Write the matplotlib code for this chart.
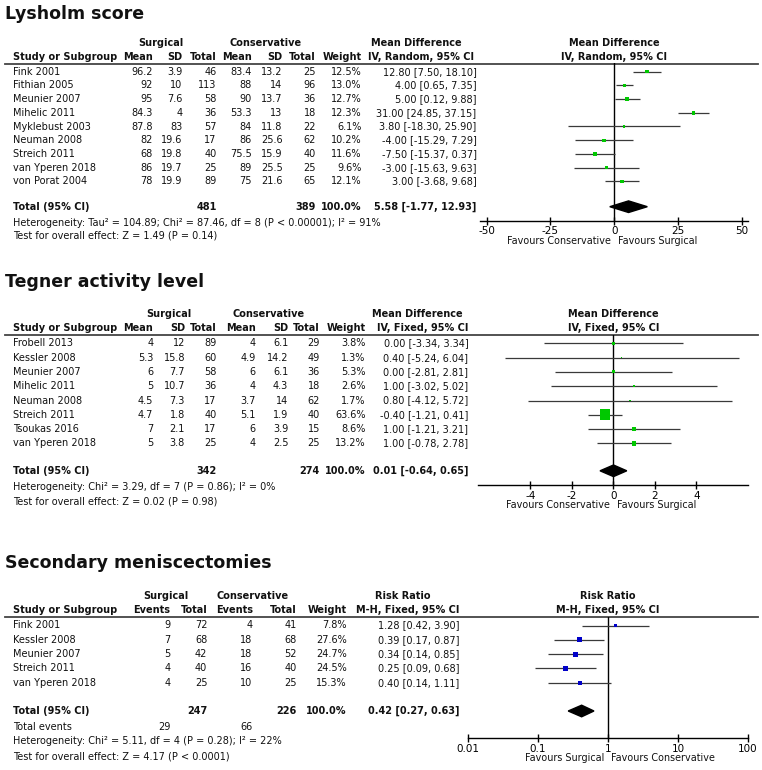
import numpy as np
import matplotlib.pyplot as plt

W, H = 762, 770

# Lysholm score (mean difference, random effects)
lys_study = ['Fink 2001', 'Fithian 2005', 'Meunier 2007', 'Mihelic 2011', 'Myklebust 2003',
             'Neuman 2008', 'Streich 2011', 'van Yperen 2018', 'von Porat 2004']
lys_s_mean = [96.2, 92, 95, 84.3, 87.8, 82, 68, 86, 78]
lys_s_sd = [3.9, 10, 7.6, 4, 83, 19.6, 19.8, 19.7, 19.9]
lys_s_n = [46, 113, 58, 36, 57, 17, 40, 25, 89]
lys_c_mean = [83.4, 88, 90, 53.3, 84, 86, 75.5, 89, 75]
lys_c_sd = [13.2, 14, 13.7, 13, 11.8, 25.6, 15.9, 25.5, 21.6]
lys_c_n = [25, 96, 36, 18, 22, 62, 40, 25, 65]
lys_weight = [12.5, 13.0, 12.7, 12.3, 6.1, 10.2, 11.6, 9.6, 12.1]
lys_md = [12.80, 4.00, 5.00, 31.00, 3.80, -4.00, -7.50, -3.00, 3.00]
lys_lo = [7.50, 0.65, 0.12, 24.85, -18.30, -15.29, -15.37, -15.63, -3.68]
lys_hi = [18.10, 7.35, 9.88, 37.15, 25.90, 7.29, 0.37, 9.63, 9.68]
lys_total = [481, 389]
lys_pooled = [5.58, -1.77, 12.93]
lys_ticks = [-50, -25, 0, 25, 50]

# Tegner activity level (mean difference, fixed effect)
teg_study = ['Frobell 2013', 'Kessler 2008', 'Meunier 2007', 'Mihelic 2011', 'Neuman 2008',
             'Streich 2011', 'Tsoukas 2016', 'van Yperen 2018']
teg_s_mean = [4, 5.3, 6, 5, 4.5, 4.7, 7, 5]
teg_s_sd = [12, 15.8, 7.7, 10.7, 7.3, 1.8, 2.1, 3.8]
teg_s_n = [89, 60, 58, 36, 17, 40, 17, 25]
teg_c_mean = [4, 4.9, 6, 4, 3.7, 5.1, 6, 4]
teg_c_sd = [6.1, 14.2, 6.1, 4.3, 14, 1.9, 3.9, 2.5]
teg_c_n = [29, 49, 36, 18, 62, 40, 15, 25]
teg_weight = [3.8, 1.3, 5.3, 2.6, 1.7, 63.6, 8.6, 13.2]
teg_md = [0.00, 0.40, 0.00, 1.00, 0.80, -0.40, 1.00, 1.00]
teg_lo = [-3.34, -5.24, -2.81, -3.02, -4.12, -1.21, -1.21, -0.78]
teg_hi = [3.34, 6.04, 2.81, 5.02, 5.72, 0.41, 3.21, 2.78]
teg_total = [342, 274]
teg_pooled = [0.01, -0.64, 0.65]
teg_ticks = [-4, -2, 0, 2, 4]

# Secondary meniscectomies (risk ratio, fixed effect)
men_study = ['Fink 2001', 'Kessler 2008', 'Meunier 2007', 'Streich 2011', 'van Yperen 2018']
men_s_ev = [9, 7, 5, 4, 4]
men_s_n = [72, 68, 42, 40, 25]
men_c_ev = [4, 18, 18, 16, 10]
men_c_n = [41, 68, 52, 40, 25]
men_weight = [7.8, 27.6, 24.7, 24.5, 15.3]
men_rr = [1.28, 0.39, 0.34, 0.25, 0.40]
men_lo = [0.42, 0.17, 0.14, 0.09, 0.14]
men_hi = [3.90, 0.87, 0.85, 0.68, 1.11]
men_total = [247, 226]
men_events = [29, 66]
men_pooled = [0.42, 0.27, 0.63]
men_ticks = [0.01, 0.1, 1, 10, 100]
men_ticklabels = ['0.01', '0.1', '1', '10', '100']

FS = 7
INK = '#111111'

fig = plt.figure(figsize=(W / 100, H / 100), dpi=100)
bg = fig.add_axes([0, 0, 1, 1])
bg.set_xlim(0, W)
bg.set_ylim(H, 0)
bg.axis('off')


def txt(x, y, s, ha='right', bold=False, size=FS):
    bg.text(x, y, s, ha=ha, va='center', fontsize=size, color=INK,
            fontweight='bold' if bold else 'normal')


def g(v):
    return '{:g}'.format(v)


def ci(e, l, h):
    return '{:.2f} [{:.2f}, {:.2f}]'.format(e, l, h)


def forest(box, rows, est, lo, hi, weight, k, colour, pooled, pooled_y, null,
           ticks, ticklabels, heads, favours, log=False):
    left, right, top, bottom, xmin, xmax = box
    ax = fig.add_axes([left / W, 1 - bottom / H, (right - left) / W, (bottom - top) / H])
    ax.set_facecolor('none')
    if log:
        ax.set_xscale('log')
    ax.set_xlim(xmin, xmax)
    ax.set_ylim(bottom, top)
    for sp in ['top', 'left', 'right']:
        ax.spines[sp].set_visible(False)
    ax.spines['bottom'].set_linewidth(1)
    ax.set_yticks([])
    ax.set_xticks(ticks)
    ax.set_xticklabels(ticklabels)
    ax.minorticks_off()
    ax.tick_params(axis='x', direction='inout', length=6, width=1, labelsize=7.5, pad=1)
    ax.axvline(null, color='black', lw=1)
    ax.hlines(rows, lo, hi, color='#3a3a3a', lw=0.9)
    side = k * np.sqrt(np.array(weight)) * 0.72
    ax.scatter(est, rows, s=side ** 2, marker='s', color=colour, linewidths=0, zorder=3)
    e, l, h = pooled
    ax.fill([l, e, h, e], [pooled_y, pooled_y - 5.8, pooled_y, pooled_y + 5.8],
            color='black', zorder=3)
    for s, off in zip(heads, [14.8, 4.7]):
        ax.annotate(s, xy=(null, 1), xycoords=('data', 'axes fraction'), xytext=(0, off),
                    textcoords='offset points', ha='center', va='center', fontsize=FS,
                    fontweight='bold', color=INK, annotation_clip=False)
    ax.annotate(favours[0], xy=(null, 0), xycoords=('data', 'axes fraction'),
                xytext=(-2.5, -14.4), textcoords='offset points', ha='right', va='center',
                fontsize=6.9, color=INK, annotation_clip=False)
    ax.annotate(favours[1], xy=(null, 0), xycoords=('data', 'axes fraction'),
                xytext=(2.5, -14.4), textcoords='offset points', ha='left', va='center',
                fontsize=6.9, color=INK, annotation_clip=False)
    return ax


# ---------------- Lysholm score ----------------
txt(5, 14, 'Lysholm score', ha='left', bold=True, size=12.5)
cols = [152.7, 182.7, 216.7, 251.7, 282.7, 316, 361.7, 476.5]
txt(161, 43, 'Surgical', ha='center', bold=True)
txt(266, 43, 'Conservative', ha='center', bold=True)
txt(416.5, 43, 'Mean Difference', ha='center', bold=True)
txt(13.3, 57, 'Study or Subgroup', ha='left', bold=True)
for x, s in zip(cols[:7], ['Mean', 'SD', 'Total', 'Mean', 'SD', 'Total', 'Weight']):
    txt(x, 57, s, bold=True)
txt(421.5, 57, 'IV, Random, 95% CI', ha='center', bold=True)
bg.plot([5, 758], [63.5, 63.5], color='#444444', lw=1.3)
lys_rows = 71.7 + 13.7 * np.arange(len(lys_study))
for i, y in enumerate(lys_rows):
    txt(13.3, y, lys_study[i], ha='left')
    vals = [g(lys_s_mean[i]), g(lys_s_sd[i]), str(lys_s_n[i]), g(lys_c_mean[i]),
            g(lys_c_sd[i]), str(lys_c_n[i]), '{:.1f}%'.format(lys_weight[i]),
            ci(lys_md[i], lys_lo[i], lys_hi[i])]
    for x, s in zip(cols, vals):
        txt(x, y, s)
txt(13.3, 206.7, 'Total (95% CI)', ha='left', bold=True)
txt(cols[2], 206.7, str(lys_total[0]), bold=True)
txt(cols[5], 206.7, str(lys_total[1]), bold=True)
txt(cols[6], 206.7, '100.0%', bold=True)
txt(cols[7], 206.7, ci(*lys_pooled), bold=True)
txt(13.3, 222.5, 'Heterogeneity: Tau² = 104.89; Chi² = 87.46, df = 8 (P < 0.00001); I² = 91%', ha='left')
txt(13.3, 236, 'Test for overall effect: Z = 1.49 (P = 0.14)', ha='left')
forest((480.2, 748.4, 63.5, 220.7, -52.5, 52.5), lys_rows, lys_md, lys_lo, lys_hi,
       lys_weight, 1.0, '#00c800', lys_pooled, 206.7, 0, lys_ticks,
       [str(t) for t in lys_ticks], ['Mean Difference', 'IV, Random, 95% CI'],
       ['Favours Conservative', 'Favours Surgical'])

# ---------------- Tegner activity level ----------------
txt(5, 282, 'Tegner activity level', ha='left', bold=True, size=12.5)
cols = [153.3, 185, 216.7, 255.7, 288.3, 320, 365.7, 468.3]
txt(169, 314, 'Surgical', ha='center', bold=True)
txt(269, 314, 'Conservative', ha='center', bold=True)
txt(417, 314, 'Mean Difference', ha='center', bold=True)
txt(13.3, 328.3, 'Study or Subgroup', ha='left', bold=True)
for x, s in zip(cols[:7], ['Mean', 'SD', 'Total', 'Mean', 'SD', 'Total', 'Weight']):
    txt(x, 328.3, s, bold=True)
txt(423, 328.3, 'IV, Fixed, 95% CI', ha='center', bold=True)
bg.plot([5, 758], [334.8, 334.8], color='#444444', lw=1.3)
teg_rows = 343.3 + 14.3 * np.arange(len(teg_study))
for i, y in enumerate(teg_rows):
    txt(13.3, y, teg_study[i], ha='left')
    vals = [g(teg_s_mean[i]), g(teg_s_sd[i]), str(teg_s_n[i]), g(teg_c_mean[i]),
            g(teg_c_sd[i]), str(teg_c_n[i]), '{:.1f}%'.format(teg_weight[i]),
            ci(teg_md[i], teg_lo[i], teg_hi[i])]
    for x, s in zip(cols, vals):
        txt(x, y, s)
txt(13.3, 470.8, 'Total (95% CI)', ha='left', bold=True)
txt(cols[2], 470.8, str(teg_total[0]), bold=True)
txt(cols[5], 470.8, str(teg_total[1]), bold=True)
txt(cols[6], 470.8, '100.0%', bold=True)
txt(cols[7], 470.8, ci(*teg_pooled), bold=True)
txt(13.3, 486.7, 'Heterogeneity: Chi² = 3.29, df = 7 (P = 0.86); I² = 0%', ha='left')
txt(13.3, 501.7, 'Test for overall effect: Z = 0.02 (P = 0.98)', ha='left')
forest((478.4, 748.2, 334.8, 485, -6.5, 6.5), teg_rows, teg_md, teg_lo, teg_hi,
       teg_weight, 1.34, '#00c800', teg_pooled, 470.8, 0, teg_ticks,
       [str(t) for t in teg_ticks], ['Mean Difference', 'IV, Fixed, 95% CI'],
       ['Favours Conservative', 'Favours Surgical'])

# ---------------- Secondary meniscectomies ----------------
txt(5, 563.3, 'Secondary meniscectomies', ha='left', bold=True, size=12.5)
cols = [170.5, 207.3, 252.7, 296.7, 346.7, 459.3]
txt(166, 596, 'Surgical', ha='center', bold=True)
txt(252.5, 596, 'Conservative', ha='center', bold=True)
txt(402.5, 596, 'Risk Ratio', ha='center', bold=True)
txt(13.3, 610, 'Study or Subgroup', ha='left', bold=True)
for x, s in zip(cols[:5], ['Events', 'Total', 'Events', 'Total', 'Weight']):
    txt(x, 610, s, bold=True)
txt(cols[5], 610, 'M-H, Fixed, 95% CI', bold=True)
bg.plot([5, 758], [616.5, 616.5], color='#444444', lw=1.3)
men_rows = 625.5 + 14.3 * np.arange(len(men_study))
for i, y in enumerate(men_rows):
    txt(13.3, y, men_study[i], ha='left')
    vals = [str(men_s_ev[i]), str(men_s_n[i]), str(men_c_ev[i]), str(men_c_n[i]),
            '{:.1f}%'.format(men_weight[i]), ci(men_rr[i], men_lo[i], men_hi[i])]
    for x, s in zip(cols, vals):
        txt(x, y, s)
txt(13.3, 710.7, 'Total (95% CI)', ha='left', bold=True)
txt(cols[1], 710.7, str(men_total[0]), bold=True)
txt(cols[3], 710.7, str(men_total[1]), bold=True)
txt(cols[4], 710.7, '100.0%', bold=True)
txt(cols[5], 710.7, ci(*men_pooled), bold=True)
txt(13.3, 727.3, 'Total events', ha='left')
txt(cols[0], 727.3, str(men_events[0]))
txt(cols[2], 727.3, str(men_events[1]))
txt(13.3, 741.5, 'Heterogeneity: Chi² = 5.11, df = 4 (P = 0.28); I² = 22%', ha='left')
txt(13.3, 756.7, 'Test for overall effect: Z = 4.17 (P < 0.0001)', ha='left')
forest((468, 748, 616.5, 738.3, 0.01, 100), men_rows, men_rr, men_lo, men_hi,
       men_weight, 1.0, '#0000c8', men_pooled, 711, 1, men_ticks, men_ticklabels,
       ['Risk Ratio', 'M-H, Fixed, 95% CI'],
       ['Favours Surgical', 'Favours Conservative'], log=True)

fig.savefig('out.png', dpi=100)
